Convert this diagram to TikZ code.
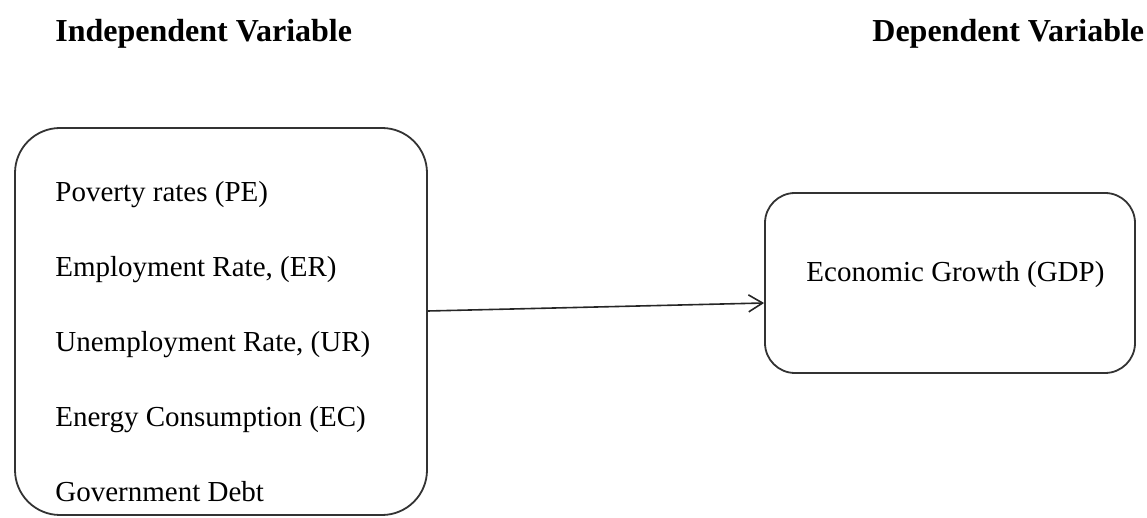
\documentclass[tikz,border=0pt]{standalone}
\usepackage{fontspec}
\setmainfont{Liberation Serif}
\usetikzlibrary{arrows.meta,positioning}
\tikzset{
  varbox/.style ={rectangle, draw=black!80, line width=0.9pt, inner sep=0pt},
  varitem/.style={anchor=base west, inner sep=0pt, font=\fontsize{14.5}{17}\selectfont},
  vartitle/.style={anchor=base west, inner sep=0pt, font=\fontsize{16}{19}\selectfont\bfseries},
  flow/.style   ={-{Straight Barb[length=7pt,width=8.5pt]}, line width=0.8pt, draw=black!85},
}
\begin{document}
\begin{tikzpicture}[x=0.5pt, y=-0.5pt]
  \useasboundingbox (0,0) rectangle (1147,518);
  % titles
  \node[vartitle] (tind) at (55,42)  {Independent Variable};
  \node[vartitle] (tdep) at (872,42) {Dependent Variable};
  % boxes
  \node[varbox, rounded corners=22.5pt, minimum width=206pt, minimum height=193.5pt]
    (indep) at (221,321.5) {};
  \node[varbox, rounded corners=15pt, minimum width=185pt, minimum height=90pt]
    (dep) at (950,283) {};
  % independent variables
  \node[varitem] (pe) at (55,202) {Poverty rates (PE)};
  \node[varitem] (er) at (55,277) {Employment Rate, (ER)};
  \node[varitem] (ur) at (55,352) {Unemployment Rate, (UR)};
  \node[varitem] (ec) at (55,427) {Energy Consumption (EC)};
  \node[varitem] (gd) at (55,502) {Government Debt};
  % dependent variable
  \node[varitem] (gdp) at (806,282) {Economic Growth (GDP)};
  \draw[flow] ([yshift=5.25pt]indep.east) -- ([yshift=-10pt]dep.west);
\end{tikzpicture}
\end{document}
